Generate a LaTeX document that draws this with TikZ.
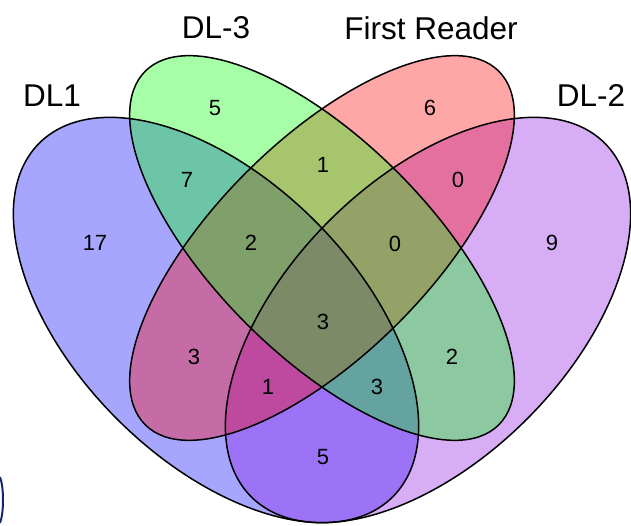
\documentclass[tikz,border=0pt]{standalone}
\usepackage{fontspec}
\setmainfont{Liberation Sans}
\definecolor{setblue}{RGB}{0,0,255}
\definecolor{setpurple}{RGB}{140,20,230}
\definecolor{setred}{RGB}{255,0,0}
\definecolor{setgreen}{RGB}{0,255,0}
\definecolor{artnavy}{RGB}{20,40,110}
\begin{document}
\begin{tikzpicture}[x=1pt,y=1pt,
  setfill/.style={fill=#1,fill opacity=0.35,draw=none},
  setline/.style={draw=black,line width=1.5pt},
  num/.style={font=\fontsize{22}{26}\selectfont,text=black,inner sep=0pt},
  catlabel/.style={font=\fontsize{31.5}{36}\selectfont,text=black,inner sep=0pt}]
\useasboundingbox (0,0) rectangle (631,525);
% fills (draw order: DL1, DL-2, First Reader, DL-3)
\fill[setfill=setblue,rotate around={-45:(216,205)}] (216,205) ellipse [x radius=250,y radius=140];
\fill[setfill=setpurple,rotate around={45:(428,205)}] (428,205) ellipse [x radius=250,y radius=140];
\fill[setfill=setred,rotate around={45:(322,277)}] (322,277) ellipse [x radius=250,y radius=107];
\fill[setfill=setgreen,rotate around={-45:(322,277)}] (322,277) ellipse [x radius=250,y radius=107];
% outlines
\draw[setline,rotate around={-45:(216,205)}] (216,205) ellipse [x radius=250,y radius=140];
\draw[setline,rotate around={45:(428,205)}] (428,205) ellipse [x radius=250,y radius=140];
\draw[setline,rotate around={45:(322,277)}] (322,277) ellipse [x radius=250,y radius=107];
\draw[setline,rotate around={-45:(322,277)}] (322,277) ellipse [x radius=250,y radius=107];
% category labels
\node[catlabel] (catA) at (52,429) {DL1};
\node[catlabel] (catC) at (216,497) {DL-3};
\node[catlabel] (catD) at (431,497) {First Reader};
\node[catlabel] (catB) at (591,429) {DL-2};
% region counts
\node[num] (n17) at (95,282) {17};
\node[num] (n5a) at (215,417) {5};
\node[num] (n6) at (430,417) {6};
\node[num] (n9) at (552,282) {9};
\node[num] (n7) at (187,345) {7};
\node[num] (n1a) at (323,360) {1};
\node[num] (n0a) at (458,345) {0};
\node[num] (n2a) at (251,282) {2};
\node[num] (n0b) at (395,281) {0};
\node[num] (n3c) at (323,203) {3};
\node[num] (n3l) at (194,168) {3};
\node[num] (n2r) at (452,168) {2};
\node[num] (n1b) at (268,138) {1};
\node[num] (n3r) at (377,138) {3};
\node[num] (n5b) at (323,68) {5};
% stray arc at lower-left edge
\draw[artnavy,line width=2pt] (0,48) .. controls (4,38) and (4,12) .. (0,2);
\end{tikzpicture}
\end{document}
